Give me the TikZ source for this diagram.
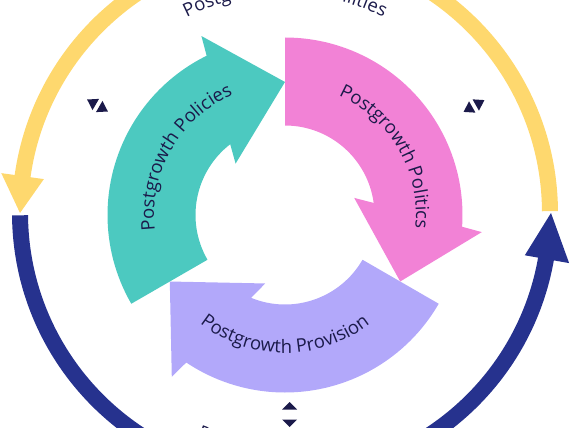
\documentclass[tikz,border=0pt]{standalone}
\usepackage{fontspec}
\setmainfont{Open Sans}
\usetikzlibrary{decorations.text}
\definecolor{ringyellow}{HTML}{FED86E}
\definecolor{ringblue}{HTML}{26328E}
\definecolor{tealc}{HTML}{4CC9C0}
\definecolor{pinkc}{HTML}{F282D6}
\definecolor{lavc}{HTML}{B2A8FA}
\definecolor{navy}{HTML}{1B1A4A}
\newcommand{\lblfont}{\fontsize{18.5}{18.5}\selectfont}
\newcommand{\cyclepath}{(90:177.5pt) arc[start angle=90, end angle=-3.8, radius=177.5pt] -- (196.8,-17.1) -- (115.2,-66.5) -- (69.2,17.1) -- (7.75:89.5pt) arc[start angle=7.75, end angle=90, radius=89.5pt] -- cycle}
\tikzset{
  ringband/.style={line width=16pt},
  marker/.style={fill=navy},
  lbl/.style={decorate, decoration={text along path, text={|\lblfont|#1}, text align=center, text color=navy}}
}
\begin{document}
\begin{tikzpicture}[x=1pt,y=1pt]
\useasboundingbox (0,0) rectangle (571,-428);
\clip (0,0) rectangle (571,-428);
% outer ring
\begin{scope}[shift={(285,-213)}]
  \draw[ringband, ringyellow] (0.4:265pt) arc[start angle=0.4, end angle=172.5, radius=265pt];
  \fill[ringyellow] (172:243.5pt) -- (180:265pt) -- (172:286.5pt) -- cycle;
  \draw[ringband, ringblue] (180.5:265pt) arc[start angle=180.5, end angle=350.5, radius=265pt];
  \fill[ringblue] (350:243.5pt) -- (360:266pt) -- (350:288.5pt) -- cycle;
  \path[lbl={Postgrowth Possibilities}] (180:219pt) arc[start angle=180, end angle=0, radius=219pt];
  \path[lbl={Postgrowth Practices}] (180:241pt) arc[start angle=180, end angle=360, radius=241pt];
\end{scope}
% markers
\begin{scope}[shift={(97.5,-105.5)}, rotate=150]
  \fill[marker] (12,0) -- (2,6.5) -- (2,-6.5) -- cycle;
  \fill[marker] (-12,0) -- (-2,6.5) -- (-2,-6.5) -- cycle;
\end{scope}
\begin{scope}[shift={(474,-106)}, rotate=29.5]
  \fill[marker] (12,0) -- (2,6.5) -- (2,-6.5) -- cycle;
  \fill[marker] (-12,0) -- (-2,6.5) -- (-2,-6.5) -- cycle;
\end{scope}
\begin{scope}[shift={(289.5,-414.5)}, rotate=270]
  \fill[marker] (12.5,0) -- (5,7.5) -- (5,-7.5) -- cycle;
  \fill[marker] (-12.5,0) -- (-5,7.5) -- (-5,-7.5) -- cycle;
\end{scope}
% inner cycle
\begin{scope}[shift={(285,-215)}]
  \begin{scope}[rotate=240]
    \fill[lavc] \cyclepath;
  \end{scope}
  \begin{scope}[rotate=120]
    \fill[tealc] \cyclepath;
    \path[lbl={Postgrowth Policies}] (90:131pt) arc[start angle=90, end angle=-30, radius=131pt];
  \end{scope}
  \fill[pinkc] \cyclepath;
  \path[lbl={Postgrowth Politics}] (90:131pt) arc[start angle=90, end angle=-30, radius=131pt];
  \path[lbl={Postgrowth Provision}] (210:138pt) arc[start angle=210, end angle=330, radius=138pt];
\end{scope}
\end{tikzpicture}
\end{document}
